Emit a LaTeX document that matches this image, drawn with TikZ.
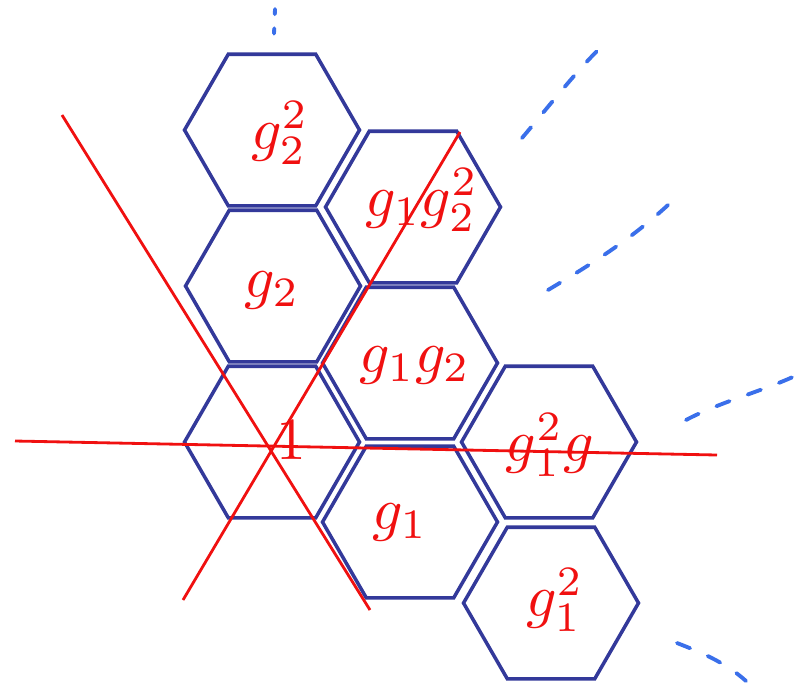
\documentclass[tikz,border=0pt]{standalone}
\usetikzlibrary{shapes.geometric}
\definecolor{HexColor}{HTML}{33399A}
\definecolor{LineColor}{HTML}{F01010}
\definecolor{DashColor}{HTML}{3A6FEA}

\begin{document}
\begin{tikzpicture}[x=0.02cm, y=-0.02cm,
  hexcell/.style={draw=HexColor, line width=2pt, regular polygon, regular polygon sides=6, minimum size=3.5cm, inner sep=0pt},
  grouplabel/.style={text=LineColor, scale=3.4, inner sep=0pt},
  axisline/.style={draw=LineColor, line width=1.6pt},
  orbitdash/.style={draw=DashColor, line width=2.2pt, line cap=round, dash pattern=on 8pt off 11pt}]
  \useasboundingbox (0,0) rectangle (807,684);

  \node[hexcell] (hexA) at (272,130) {};
  \node[hexcell] (hexB) at (273,286) {};
  \node[hexcell] (hexC) at (272,442) {};
  \node[hexcell] (hexD) at (413,207) {};
  \node[hexcell] (hexE) at (410,363) {};
  \node[hexcell] (hexF) at (410,522) {};
  \node[hexcell] (hexG) at (549,442) {};
  \node[hexcell] (hexH) at (551,603) {};

  \node[grouplabel] (labA) at (280,133) {$g_2^2$};
  \node[grouplabel] (labB) at (272,290) {$g_2$};
  \node[grouplabel] (labC) at (291,440) {$1$};
  \node[grouplabel] (labD) at (422,200) {$g_1g_2^2$};
  \node[grouplabel] (labE) at (415,365) {$g_1g_2$};
  \node[grouplabel] (labF) at (400,522) {$g_1$};
  \node[grouplabel] (labG) at (550,445) {$g_1^2g$};
  \node[grouplabel] (labH) at (555,600) {$g_1^2$};

  \coordinate (axW) at (15,441);
  \coordinate (axE) at (717,455);
  \coordinate (axNW) at (62,115);
  \coordinate (axSE) at (370,610);
  \coordinate (axSW) at (183,600);
  \coordinate (axNE) at (460,132);
  \draw[axisline] (axW) -- (axE);
  \draw[axisline] (axNW) -- (axSE);
  \draw[axisline] (axSW) -- (axNE);

  \coordinate (dsA1) at (275,9);
  \coordinate (dsA2) at (274,34);
  \coordinate (dsB1) at (522,138);
  \coordinate (dsB2) at (609,40);
  \coordinate (dsC1) at (548,290);
  \coordinate (dsC2) at (668,205);
  \coordinate (dsD1) at (686,420);
  \coordinate (dsD2) at (795,376);
  \coordinate (dsE1) at (677,643);
  \coordinate (dsE2) at (746,681);
  \draw[orbitdash, dash pattern=on 3pt off 8pt] (dsA1) -- (dsA2);
  \draw[orbitdash] (dsB1) .. controls (550,105) and (585,60) .. (dsB2);
  \draw[orbitdash] (dsC1) .. controls (590,265) and (630,240) .. (dsC2);
  \draw[orbitdash] (dsD1) .. controls (720,402) and (760,392) .. (dsD2);
  \draw[orbitdash] (dsE1) .. controls (700,652) and (725,662) .. (dsE2);
\end{tikzpicture}
\end{document}
